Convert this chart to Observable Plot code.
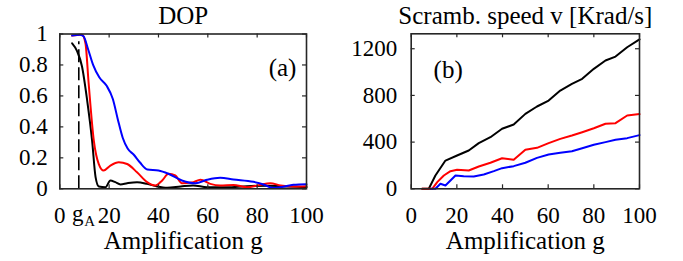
<!DOCTYPE html>
<html>
<head>
<meta charset="utf-8">
<script src="https://cdn.jsdelivr.net/npm/d3@7"></script>
<script src="https://cdn.jsdelivr.net/npm/@observablehq/plot@0.6"></script>
<style>
  html, body { margin: 0; padding: 0; background: #fff; }
  #wrap { position: relative; width: 683px; height: 261px; overflow: hidden; }
  #pa { position: absolute; left: 0; top: 0; }
  #pb { position: absolute; left: 341px; top: 0; }
  #wrap svg, #wrap svg text { font-family: 'Liberation Serif', 'Times New Roman', serif !important; }
</style>
</head>
<body>
<div id="wrap"><div id="pa"></div><div id="pb"></div></div>
<script>
// ---------- Panel (a): DOP vs amplification ----------
const gA = 7.7;
const dopBlueG  = [5, 8, 9.6, 11.5, 13.5, 16, 19, 21.5, 23.5, 25.5, 27.5, 30, 32.5, 35.5, 40, 44, 49.5, 55, 59.7, 65, 70.4, 78.5, 82.6, 86, 89.5, 94.7, 100];
const dopBlueV  = [0.99, 0.995, 0.985, 0.9, 0.8, 0.72, 0.665, 0.58, 0.45, 0.33, 0.26, 0.22, 0.17, 0.125, 0.118, 0.097, 0.054, 0.036, 0.058, 0.071, 0.06, 0.045, 0.028, 0.006, 0.01, 0.026, 0.03];
const dopRedG   = [5, 9, 10.4, 11.7, 13.8, 15.8, 17.8, 20.5, 23.9, 27.3, 31.3, 35.4, 38.7, 41.5, 44.1, 46.8, 49.5, 53.5, 57, 61, 65, 70.4, 75.8, 81, 85.3, 89.5, 94.7, 100];
const dopRedV   = [0.99, 0.995, 0.94, 0.68, 0.31, 0.16, 0.118, 0.15, 0.172, 0.16, 0.107, 0.043, 0.021, 0.054, 0.097, 0.086, 0.036, 0.04, 0.058, 0.032, 0.022, 0.025, 0.01, 0.025, 0.036, 0.022, 0.015, 0.017];
const dopBlackG = [5, 7, 9, 11.1, 13.1, 14.5, 15.8, 18.5, 20.5, 22.5, 24.6, 27.3, 31.3, 35.4, 39.4, 43.5, 49, 54, 59.7, 67.7, 75.8, 84, 92, 100];
const dopBlackV = [0.94, 0.89, 0.79, 0.57, 0.31, 0.075, 0.015, 0.01, 0.054, 0.043, 0.028, 0.036, 0.043, 0.032, 0.015, 0.006, 0.015, 0.022, 0.01, 0.01, 0.017, 0.02, 0.015, 0.01];
const dopXTicks = [0, 20, 40, 60, 80, 100];
const dopYTicks = [0, 0.2, 0.4, 0.6, 0.8, 1];
const dopYLabels = ["0", "0.2", "0.4", "0.6", "0.8", "1"];

// ---------- Panel (b): scrambling speed ----------
const spBlackG = [4.8, 7.7, 10.6, 15, 20.1, 25.2, 29.6, 34.7, 39.8, 44.9, 50, 55.1, 60.2, 65.3, 70.4, 74.9, 80, 85.1, 89.5, 94.6, 100];
const spBlackV = [0, 0, 114, 242, 285, 328, 391, 442, 514, 551, 642, 705, 756, 842, 899, 942, 1028, 1099, 1133, 1213, 1280];
const spRedG   = [4.8, 9.2, 11.4, 14.3, 17.2, 20.1, 25.2, 29.6, 34.7, 39.8, 44.9, 50, 55.1, 60.2, 65.3, 70.4, 74.9, 80, 85.1, 89.5, 94.6, 100];
const spRedV   = [0, 0, 57, 114, 151, 163, 157, 191, 223, 262, 248, 334, 351, 391, 428, 457, 485, 519, 557, 562, 628, 640];
const spBlueG  = [8.5, 10.6, 12.8, 15, 17.2, 19.4, 23, 27.4, 31.8, 36.2, 39.8, 44.9, 50, 55.1, 60.2, 65.3, 70.4, 74.9, 80, 85.1, 89.5, 94.6, 100];
const spBlueV  = [0, 0, 43, 28, 71, 114, 108, 105, 122, 151, 177, 194, 223, 265, 294, 308, 322, 348, 377, 400, 420, 434, 460];
const spXTicks = [0, 20, 40, 60, 80, 100];
const spYTicks = [0, 400, 800, 1200];

const titleA = "DOP";
const titleB = "Scramb. speed v [Krad/s]";
const xLabel = "Amplification g";

const zip = (gs, vs) => gs.map((g, i) => ({g, v: vs[i]}));

const FONT = "'Liberation Serif', 'Times New Roman', serif";
const TICK_FS = 23, LABEL_FS = 25;
const FRAME = "#262626";
const INK = "black";
const TL = 4; // inward tick length

function inwardTicks(xt, yt, W, H, m) {
  const pw = W - m.left - m.right, ph = H - m.top - m.bottom;
  return [
    Plot.tickX(xt, {x: d => d, insetTop: ph - TL, stroke: FRAME, strokeWidth: 1.2}),
    Plot.tickX(xt, {x: d => d, insetBottom: ph - TL, stroke: FRAME, strokeWidth: 1.2}),
    Plot.tickY(yt, {y: d => d, insetRight: pw - TL, stroke: FRAME, strokeWidth: 1.2}),
    Plot.tickY(yt, {y: d => d, insetLeft: pw - TL, stroke: FRAME, strokeWidth: 1.2})
  ];
}

// ---------- Draw (a) ----------
{
  const W = 341, H = 261;
  const m = {top: 33.5, right: 35, bottom: 72.7, left: 59.3};
  const p = Plot.plot({
    width: W, height: H,
    marginTop: m.top, marginRight: m.right, marginBottom: m.bottom, marginLeft: m.left,
    style: {fontFamily: FONT, fontSize: TICK_FS + "px", color: "black", background: "white", overflow: "visible"},
    x: {domain: [0, 100]},
    y: {domain: [0, 1]},
    marks: [
      Plot.ruleX([gA], {x: d => d, y1: 0, y2: 0.95, stroke: "black", strokeWidth: 1.6, strokeDasharray: "13,5"}),
      Plot.line(zip(dopBlackG, dopBlackV), {x: "g", y: "v", stroke: "black", strokeWidth: 2, curve: "monotone-x"}),
      Plot.line(zip(dopRedG, dopRedV), {x: "g", y: "v", stroke: "#ff0000", strokeWidth: 2, curve: "monotone-x"}),
      Plot.line(zip(dopBlueG, dopBlueV), {x: "g", y: "v", stroke: "#0000ff", strokeWidth: 2, curve: "monotone-x"}),
      ...inwardTicks(dopXTicks, dopYTicks, W, H, m),
      Plot.frame({stroke: FRAME, strokeWidth: 1.6}),
      Plot.axisX({ticks: dopXTicks, tickSize: 0, tickPadding: 18, label: null, fontFamily: FONT, fontSize: TICK_FS, fill: INK}),
      Plot.axisY({ticks: dopYTicks, tickSize: 0, tickPadding: 12, label: null, tickFormat: d => dopYLabels[dopYTicks.indexOf(d)], fontFamily: FONT, fontSize: TICK_FS, fill: INK}),
      Plot.text([gA], {x: d => d, frameAnchor: "bottom", text: () => "g", dy: 16, dx: -1, lineAnchor: "top", fontFamily: FONT, fontSize: TICK_FS, fill: INK}),
      Plot.text([gA], {x: d => d, frameAnchor: "bottom", text: () => "A", dy: 27, dx: 11, lineAnchor: "top", fontFamily: FONT, fontSize: 15, fill: INK}),
      Plot.text([titleA], {frameAnchor: "top", text: d => d, dy: -10, lineAnchor: "bottom", fontFamily: FONT, fontSize: LABEL_FS, fill: INK}),
      Plot.text([xLabel], {frameAnchor: "bottom", text: d => d, dy: 42, lineAnchor: "top", fontFamily: FONT, fontSize: LABEL_FS, fill: INK}),
      Plot.text(["(a)"], {frameAnchor: "top-right", text: d => d, dx: -24, dy: 24, textAnchor: "middle", lineAnchor: "top", fontFamily: FONT, fontSize: LABEL_FS, fill: INK})
    ]
  });
  document.getElementById("pa").appendChild(p);
}

// ---------- Draw (b) ----------
{
  const W = 342, H = 261;
  const m = {top: 33.3, right: 44, bottom: 72.7, left: 69.7};
  const p = Plot.plot({
    width: W, height: H,
    marginTop: m.top, marginRight: m.right, marginBottom: m.bottom, marginLeft: m.left,
    style: {fontFamily: FONT, fontSize: TICK_FS + "px", color: "black", background: "white", overflow: "visible"},
    x: {domain: [0, 100]},
    y: {domain: [0, 1328]},
    marks: [
      Plot.line(zip(spBlackG, spBlackV), {x: "g", y: "v", stroke: "black", strokeWidth: 2}),
      Plot.line(zip(spRedG, spRedV), {x: "g", y: "v", stroke: "#ff0000", strokeWidth: 2}),
      Plot.line(zip(spBlueG, spBlueV), {x: "g", y: "v", stroke: "#0000ff", strokeWidth: 2}),
      ...inwardTicks(spXTicks, spYTicks, W, H, m),
      Plot.frame({stroke: FRAME, strokeWidth: 1.6}),
      Plot.axisX({ticks: spXTicks, tickSize: 0, tickPadding: 18, label: null, fontFamily: FONT, fontSize: TICK_FS, fill: INK}),
      Plot.axisY({ticks: spYTicks, tickSize: 0, tickPadding: 14, label: null, tickFormat: d => String(d), fontFamily: FONT, fontSize: TICK_FS, fill: INK}),
      Plot.text([titleB], {frameAnchor: "top", text: d => d, dy: -10, lineAnchor: "bottom", fontFamily: FONT, fontSize: LABEL_FS, fill: INK}),
      Plot.text([xLabel], {frameAnchor: "bottom", text: d => d, dy: 42, lineAnchor: "top", fontFamily: FONT, fontSize: LABEL_FS, fill: INK}),
      Plot.text(["(b)"], {frameAnchor: "top-left", text: d => d, dx: 37, dy: 26, textAnchor: "middle", lineAnchor: "top", fontFamily: FONT, fontSize: LABEL_FS, fill: INK})
    ]
  });
  document.getElementById("pb").appendChild(p);
}
</script>
</body>
</html>
